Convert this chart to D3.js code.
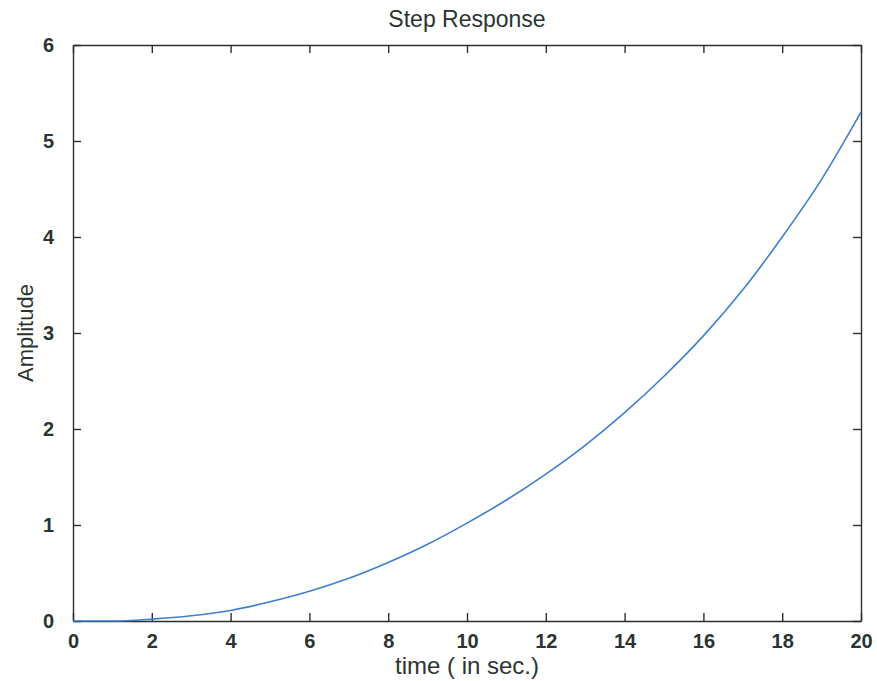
<!DOCTYPE html>
<html>
<head>
<meta charset="utf-8">
<script src="https://cdn.jsdelivr.net/npm/d3@7"></script>
<style>
  body { margin: 0; background: #fff; }
  svg { display: block; font-family: "Liberation Sans", Arial, sans-serif; }
  .axis path, .axis line { stroke: #2b2f2e; stroke-width: 1.4; }
  .axis text { fill: #2b3431; font-size: 20px; font-weight: bold; }
</style>
</head>
<body>
<svg width="877" height="681"></svg>
<script>
// step response (time in sec., amplitude)
const time = [0, 1, 2, 3, 4, 5, 6, 7, 8, 9, 10, 11, 12, 13, 14, 15, 16, 17, 18, 19, 20];
const amplitude = [0, 0, 0.02, 0.055, 0.11, 0.2, 0.31, 0.445, 0.61, 0.8, 1.02, 1.26, 1.53, 1.83, 2.17, 2.55, 2.97, 3.45, 4.0, 4.6, 5.3];
const xTicks = [0, 2, 4, 6, 8, 10, 12, 14, 16, 18, 20];
const yTicks = [0, 1, 2, 3, 4, 5, 6];

const svg = d3.select('svg'),
    margin = {top: 45, right: 16, bottom: 60, left: 73},
    width = +svg.attr('width') - margin.left - margin.right,
    height = +svg.attr('height') - margin.top - margin.bottom,
    g = svg.append('g').attr('transform', 'translate(' + margin.left + ',' + margin.top + ')');

const x = d3.scaleLinear().domain([0, 20]).range([0, width]);
const y = d3.scaleLinear().domain([0, 6]).range([height, 0]);

// bottom / left axes with labels, ticks pointing inwards
g.append('g')
    .attr('class', 'axis')
    .attr('transform', 'translate(0,' + height + ')')
    .call(d3.axisBottom(x).tickValues(xTicks).tickSizeInner(-8).tickSizeOuter(0).tickPadding(16).tickFormat(d3.format('d')))
    .call(a => a.selectAll('text').attr('dy', '0.55em'));

g.append('g')
    .attr('class', 'axis')
    .call(d3.axisLeft(y).tickValues(yTicks).tickSizeInner(-8).tickSizeOuter(0).tickPadding(19).tickFormat(d3.format('d')));

// top / right axes, ticks only
g.append('g')
    .attr('class', 'axis')
    .call(d3.axisTop(x).tickValues(xTicks).tickSizeInner(-8).tickSizeOuter(0).tickFormat(''));

g.append('g')
    .attr('class', 'axis')
    .attr('transform', 'translate(' + width + ',0)')
    .call(d3.axisRight(y).tickValues(yTicks).tickSizeInner(-8).tickSizeOuter(0).tickFormat(''));

// the response curve
const line = d3.line()
    .x((d, i) => x(time[i]))
    .y(d => y(d))
    .curve(d3.curveMonotoneX);

g.append('path')
    .datum(amplitude)
    .attr('fill', 'none')
    .attr('stroke', '#3f7fd0')
    .attr('stroke-width', 1.6)
    .attr('d', line);

// title and axis labels
svg.append('text')
    .attr('x', margin.left + width / 2)
    .attr('y', 27)
    .attr('text-anchor', 'middle')
    .attr('font-size', 23)
    .attr('fill', '#2b3431')
    .text('Step Response');

svg.append('text')
    .attr('x', margin.left + width / 2)
    .attr('y', 674)
    .attr('text-anchor', 'middle')
    .attr('font-size', 24)
    .attr('fill', '#2b3431')
    .text('time ( in sec.)');

svg.append('text')
    .attr('transform', 'translate(33,' + (margin.top + height / 2) + ')rotate(-90)')
    .attr('text-anchor', 'middle')
    .attr('font-size', 22)
    .attr('fill', '#2b3431')
    .text('Amplitude');
</script>
</body>
</html>
